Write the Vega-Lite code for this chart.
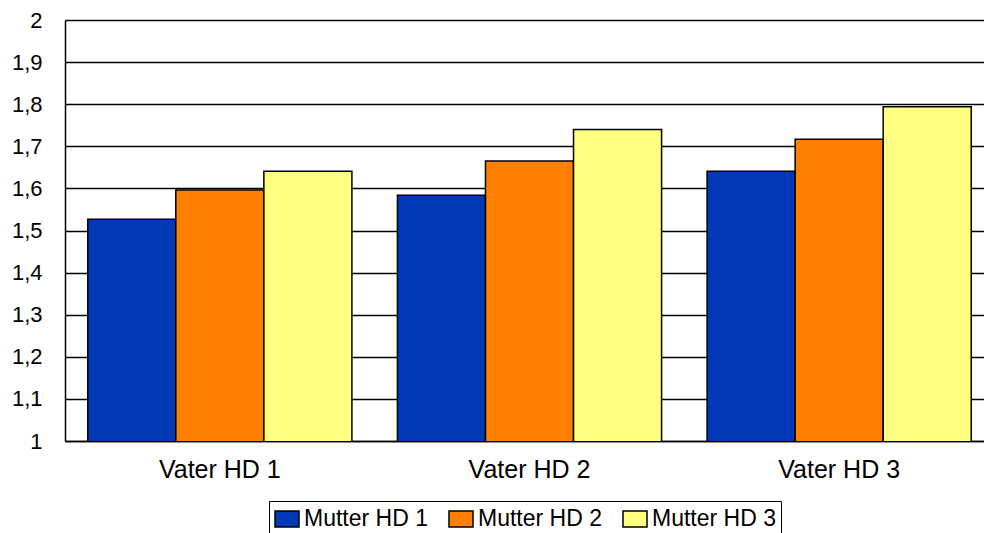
{
  "$schema": "https://vega.github.io/schema/vega-lite/v6.json",
  "width": 919,
  "height": 421,
  "autosize": {"type": "none"},
  "padding": {"left": 65, "top": 20, "right": 0, "bottom": 92},
  "background": "white",
  "config": {
    "font": "Liberation Sans",
    "locale": {"number": {"decimal": ",", "thousands": ".", "grouping": [3], "currency": ["", " €"]}},
    "view": {"stroke": null}
  },
  "data": {
    "values": [
      {"vater": "Vater HD 1", "mutter": "Mutter HD 1", "wert": 1.527},
      {"vater": "Vater HD 1", "mutter": "Mutter HD 2", "wert": 1.596},
      {"vater": "Vater HD 1", "mutter": "Mutter HD 3", "wert": 1.641},
      {"vater": "Vater HD 2", "mutter": "Mutter HD 1", "wert": 1.584},
      {"vater": "Vater HD 2", "mutter": "Mutter HD 2", "wert": 1.665},
      {"vater": "Vater HD 2", "mutter": "Mutter HD 3", "wert": 1.740},
      {"vater": "Vater HD 3", "mutter": "Mutter HD 1", "wert": 1.641},
      {"vater": "Vater HD 3", "mutter": "Mutter HD 2", "wert": 1.717},
      {"vater": "Vater HD 3", "mutter": "Mutter HD 3", "wert": 1.794}
    ]
  },
  "mark": {"type": "bar", "stroke": "black", "strokeWidth": 1.5, "clip": true},
  "encoding": {
    "x": {
      "field": "vater",
      "type": "nominal",
      "scale": {"range": [0, 929], "paddingInner": 0.147, "paddingOuter": 0.0735},
      "axis": {
        "title": null,
        "labelAngle": 0,
        "labelFontSize": 25,
        "labelColor": "black",
        "labelPadding": 16,
        "ticks": false,
        "domainColor": "black",
        "domainWidth": 1.5
      }
    },
    "xOffset": {
      "field": "mutter",
      "type": "nominal",
      "scale": {"paddingInner": 0, "paddingOuter": 0}
    },
    "y": {
      "field": "wert",
      "type": "quantitative",
      "scale": {"domain": [1, 2], "zero": false, "nice": false},
      "axis": {
        "title": null,
        "values": [1, 1.1, 1.2, 1.3, 1.4, 1.5, 1.6, 1.7, 1.8, 1.9, 2],
        "format": ".1~f",
        "labelFontSize": 22,
        "labelColor": "black",
        "labelPadding": 23,
        "ticks": false,
        "grid": true,
        "gridColor": "black",
        "gridWidth": 1.5,
        "gridOpacity": 1,
        "domainColor": "black",
        "domainWidth": 1.5
      }
    },
    "color": {
      "field": "mutter",
      "type": "nominal",
      "scale": {"domain": ["Mutter HD 1", "Mutter HD 2", "Mutter HD 3"], "range": ["#0039B8", "#FF8000", "#FFFF80"]},
      "legend": {
        "title": null,
        "orient": "none",
        "direction": "horizontal",
        "columns": 3,
        "legendX": 204,
        "legendY": 481,
        "padding": 5,
        "strokeColor": "black",
        "fillColor": "white",
        "symbolType": "M-1,-0.667H1V0.667H-1Z",
        "symbolSize": 576,
        "symbolStrokeColor": "black",
        "symbolStrokeWidth": 1.5,
        "labelFontSize": 23,
        "labelColor": "black",
        "labelOffset": 4,
        "columnPadding": 18
      }
    }
  }
}
